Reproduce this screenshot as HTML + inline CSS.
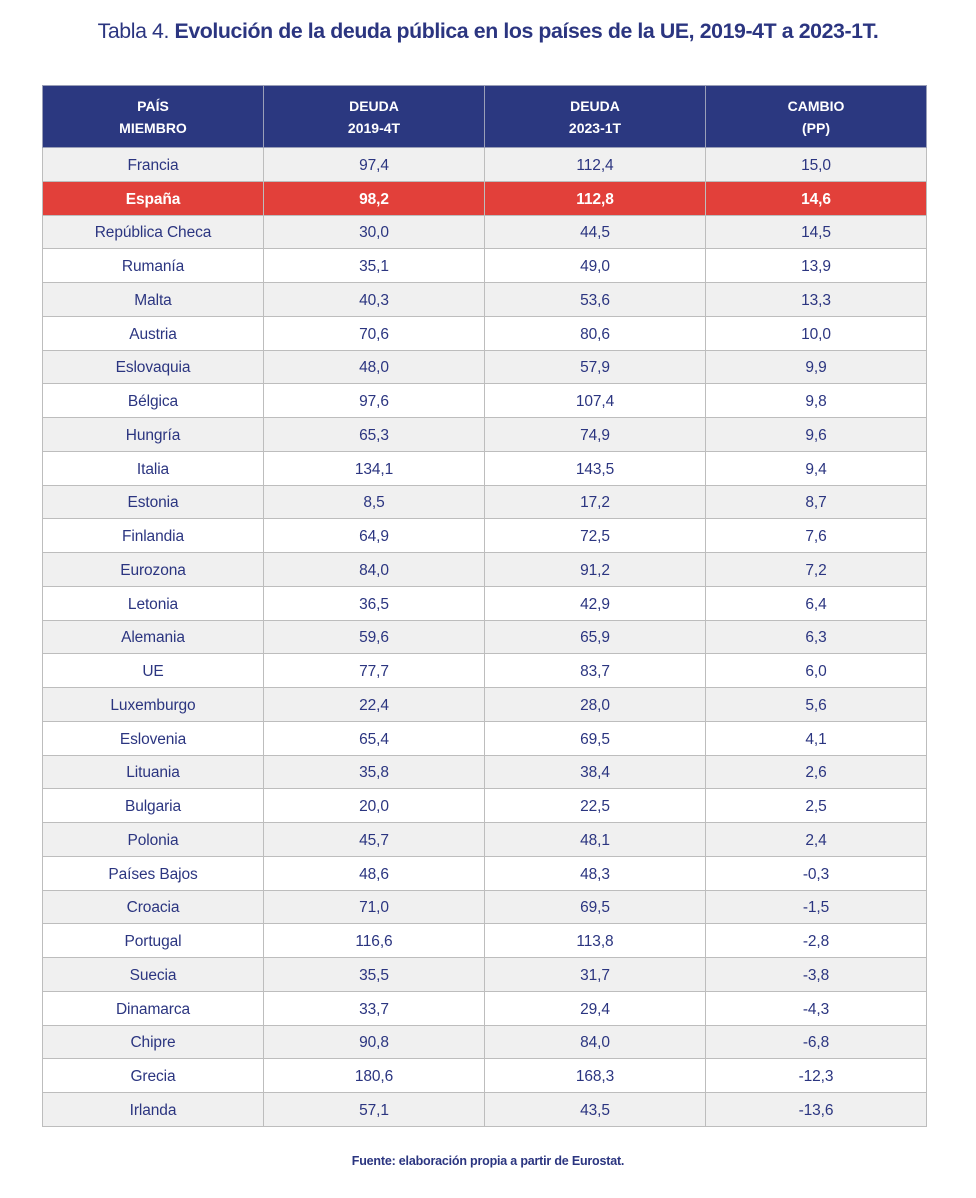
<!DOCTYPE html>
<html><head><meta charset="utf-8">
<style>
html,body{margin:0;padding:0;background:#fff;}
body{width:976px;height:1198px;position:relative;font-family:"Liberation Sans",sans-serif;color:#2b3580;}
.title{position:absolute;top:19px;left:0;width:976px;text-align:center;font-size:21.3px;letter-spacing:-0.4px;color:#2b3580;white-space:nowrap;}
.title b{font-weight:bold;}
table{position:absolute;left:42px;top:85px;width:885px;border-collapse:collapse;table-layout:fixed;}
th,td{border:1px solid #bdbdbd;text-align:center;padding:0;}
th{background:#2b3880;color:#fff;font-size:14px;font-weight:bold;height:61px;line-height:22px;border-color:#9a9fb8;}
td{height:29.75px;padding-top:3px;font-size:15.5px;letter-spacing:-0.1px;box-sizing:content-box;}
tr.g td{background:#f0f0f0;}
tr.w td{background:#fff;}
tr.es td{background:#e2403a;color:#fff;font-weight:bold;}
.foot{position:absolute;top:1154px;left:0;width:976px;text-align:center;font-size:12.5px;font-weight:bold;color:#2b3580;letter-spacing:-0.2px;}
</style></head><body>
<div class="title">Tabla 4. <b>Evolución de la deuda pública en los países de la UE, 2019-4T a 2023-1T.</b></div>
<table>
<thead><tr>
<th>PAÍS<br>MIEMBRO</th>
<th>DEUDA<br>2019-4T</th>
<th>DEUDA<br>2023-1T</th>
<th>CAMBIO<br>(PP)</th>
</tr></thead>
<tbody id="tb"></tbody>
</table>
<div class="foot">Fuente: elaboración propia a partir de Eurostat.</div>
<script>
const countries=["Francia","España","República Checa","Rumanía","Malta","Austria","Eslovaquia","Bélgica","Hungría","Italia","Estonia","Finlandia","Eurozona","Letonia","Alemania","UE","Luxemburgo","Eslovenia","Lituania","Bulgaria","Polonia","Países Bajos","Croacia","Portugal","Suecia","Dinamarca","Chipre","Grecia","Irlanda"];
const debt2019=["97,4","98,2","30,0","35,1","40,3","70,6","48,0","97,6","65,3","134,1","8,5","64,9","84,0","36,5","59,6","77,7","22,4","65,4","35,8","20,0","45,7","48,6","71,0","116,6","35,5","33,7","90,8","180,6","57,1"];
const debt2023=["112,4","112,8","44,5","49,0","53,6","80,6","57,9","107,4","74,9","143,5","17,2","72,5","91,2","42,9","65,9","83,7","28,0","69,5","38,4","22,5","48,1","48,3","69,5","113,8","31,7","29,4","84,0","168,3","43,5"];
const change=["15,0","14,6","14,5","13,9","13,3","10,0","9,9","9,8","9,6","9,4","8,7","7,6","7,2","6,4","6,3","6,0","5,6","4,1","2,6","2,5","2,4","-0,3","-1,5","-2,8","-3,8","-4,3","-6,8","-12,3","-13,6"];
const tb=document.getElementById('tb');
countries.forEach((c,i)=>{
  const tr=document.createElement('tr');
  tr.className = c==="España" ? "es" : (i%2===0 ? "g" : "w");
  
  
  [c,debt2019[i],debt2023[i],change[i]].forEach((v,j)=>{
    const td=document.createElement('td');
    td.textContent=v;
    
    
    tr.appendChild(td);
  });
  tb.appendChild(tr);
});
</script>
</body></html>
